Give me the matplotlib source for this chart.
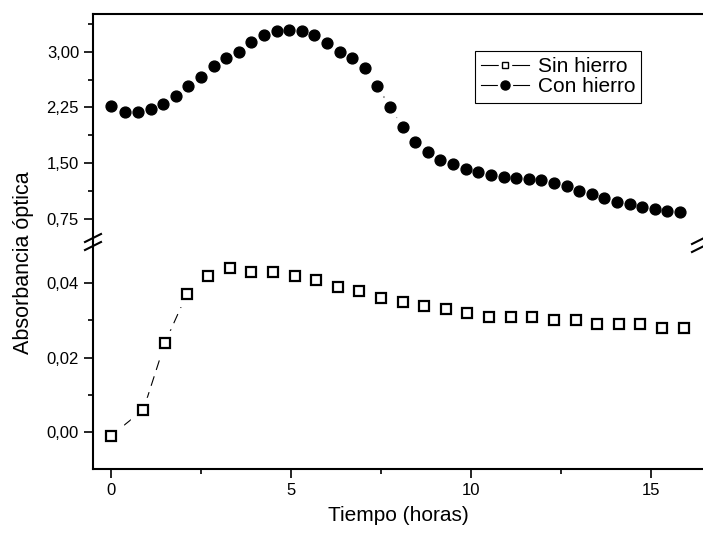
import matplotlib
matplotlib.use("Agg")
import matplotlib.pyplot as plt
from matplotlib.lines import Line2D
from matplotlib.ticker import FixedLocator, FuncFormatter

plt.rcParams['font.family'] = ['Liberation Sans', 'DejaVu Sans']

# Sin hierro (lower panel)
t_sin = [0, 0.9, 1.5, 2.1, 2.7, 3.3, 3.9, 4.5, 5.1, 5.7, 6.3, 6.9, 7.5, 8.1,
         8.7, 9.3, 9.9, 10.5, 11.1, 11.7, 12.3, 12.9, 13.5, 14.1, 14.7, 15.3, 15.9]
abs_sin = [-0.001, 0.006, 0.024, 0.037, 0.042, 0.044, 0.043, 0.043, 0.042, 0.041,
           0.039, 0.038, 0.036, 0.035, 0.034, 0.033, 0.032, 0.031, 0.031, 0.031,
           0.030, 0.030, 0.029, 0.029, 0.029, 0.028, 0.028]

# Con hierro (upper panel)
t_con = [0, 0.4, 0.75, 1.1, 1.45, 1.8, 2.15, 2.5, 2.85, 3.2, 3.55, 3.9, 4.25, 4.6,
         4.95, 5.3, 5.65, 6.0, 6.35, 6.7, 7.05, 7.4, 7.75, 8.1, 8.45, 8.8, 9.15,
         9.5, 9.85, 10.2, 10.55, 10.9, 11.25, 11.6, 11.95, 12.3, 12.65, 13.0,
         13.35, 13.7, 14.05, 14.4, 14.75, 15.1, 15.45, 15.8]
abs_con = [2.27, 2.19, 2.19, 2.23, 2.30, 2.41, 2.54, 2.66, 2.81, 2.91,
           2.99, 3.13, 3.23, 3.28, 3.29, 3.28, 3.23, 3.12, 2.99, 2.91,
           2.78, 2.54, 2.25, 1.99, 1.78, 1.65, 1.55, 1.49, 1.42, 1.38,
           1.34, 1.32, 1.30, 1.29, 1.28, 1.23, 1.19, 1.13, 1.09, 1.03,
           0.98, 0.95, 0.91, 0.88, 0.86, 0.85]

up_ticks = [0.75, 1.50, 2.25, 3.00]
low_ticks = [0.00, 0.02, 0.04]
x_ticks = [0, 5, 10, 15]

W, H = 703, 536
fig = plt.figure(figsize=(W / 100, H / 100), dpi=100)
L, R, TOP, MID, BOT = 93, 703, 14, 242, 469
ax_up = fig.add_axes([L / W, (H - MID) / H, (R - L) / W, (MID - TOP) / H])
ax_lo = fig.add_axes([L / W, (H - BOT) / H, (R - L) / W, (BOT - MID) / H])

comma = FuncFormatter(lambda v, p: f'{v:.2f}'.replace('.', ','))

for ax in (ax_up, ax_lo):
    ax.set_xlim(-0.5, 16.44)
    ax.spines['right'].set_visible(False)
    for s in ax.spines.values():
        s.set_linewidth(1.5)
    ax.tick_params(which='major', direction='out', length=6.5, width=1.2,
                   labelsize=12, pad=3.5)
    ax.tick_params(which='minor', direction='out', length=3.5, width=1.2)
    ax.yaxis.set_major_formatter(comma)

# upper panel
ax_up.set_ylim(0.441, 3.507)
ax_up.spines['bottom'].set_visible(False)
ax_up.tick_params(axis='x', which='both', bottom=False, labelbottom=False)
ax_up.yaxis.set_major_locator(FixedLocator(up_ticks))
ax_up.yaxis.set_minor_locator(FixedLocator([1.125, 1.875, 2.625, 3.375]))
ax_up.plot(t_con, abs_con, '-', color='black', lw=0.8)
ax_up.plot(t_con, abs_con, 'o', ms=16, mfc='white', mec='white')
ax_up.plot(t_con, abs_con, 'o', ms=7.8, mfc='black', mec='black')

# lower panel
ax_lo.set_ylim(-0.00995, 0.0511)
ax_lo.spines['top'].set_visible(False)
ax_lo.yaxis.set_major_locator(FixedLocator(low_ticks))
ax_lo.yaxis.set_minor_locator(FixedLocator([-0.01, 0.01, 0.03]))
ax_lo.xaxis.set_major_locator(FixedLocator(x_ticks))
ax_lo.xaxis.set_minor_locator(FixedLocator([2.5, 7.5, 12.5]))
ax_lo.plot(t_sin, abs_sin, color='black', lw=0.8, dashes=[9, 6])
ax_lo.plot(t_sin, abs_sin, 's', ms=17, mfc='white', mec='white')
ax_lo.plot(t_sin, abs_sin, 's', ms=7.5, mfc='white', mec='black', mew=1.6)
ax_lo.set_xlabel('Tiempo (horas)', fontsize=15, labelpad=6)

fig.text(24 / W, 1 - 263 / H, 'Absorbancia óptica', rotation=90,
         fontsize=15.5, ha='center', va='center')

# break marks
def slash(xc, yc):
    fig.add_artist(Line2D([(xc - 8) / W, (xc + 8) / W],
                          [1 - (yc + 4) / H, 1 - (yc - 4) / H],
                          color='black', lw=1.5))

for yc in (238, 246):
    slash(93, yc)
for yc in (240, 248):
    slash(700, yc)

# legend handles: line with a gap around the marker
ln = Line2D([], [], color='black', lw=0.8)
h1 = (ln, Line2D([], [], ls='none', marker='s', ms=9, mfc='white', mec='white'),
      Line2D([], [], ls='none', marker='s', ms=4.5, mfc='white', mec='black', mew=1.0))
h2 = (ln, Line2D([], [], ls='none', marker='o', ms=10, mfc='white', mec='white'),
      Line2D([], [], ls='none', marker='o', ms=6.5, mfc='black', mec='black'))
leg = ax_up.legend([h1, h2], ['Sin hierro', 'Con hierro'], loc='upper left',
                   bbox_to_anchor=(475 / W, 1 - 51 / H),
                   bbox_transform=fig.transFigure, fontsize=15, frameon=True,
                   fancybox=False, edgecolor='black', framealpha=1,
                   borderaxespad=0, borderpad=0.3, labelspacing=0.05,
                   handlelength=2.3, handletextpad=0.4)
leg.get_frame().set_linewidth(0.8)

fig.savefig('out.png', dpi=100)
